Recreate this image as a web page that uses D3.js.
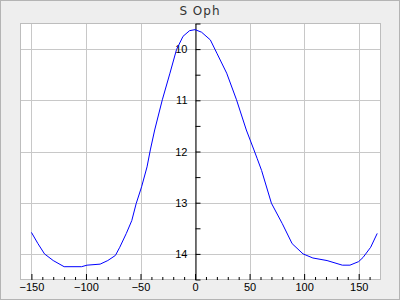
<!DOCTYPE html>
<html>
<head>
<meta charset="utf-8">
<script src="https://cdn.jsdelivr.net/npm/d3@7"></script>
<style>
  body { margin: 0; }
  svg { display: block; }
</style>
</head>
<body>
<svg width="400" height="300"></svg>
<script>
// light curve data: phase vs magnitude
const phase = [-150, -144, -138, -130, -120, -104, -99, -87, -80, -73, -69, -63, -58, -54, -49, -44, -41, -37, -30, -23, -17, -11, -5, 0, 6, 14, 20, 29, 38, 47, 54, 57, 61, 70, 80, 89, 99, 108, 121, 135, 142, 150, 154, 161, 167];
const mag = [13.58, 13.80, 14.00, 14.13, 14.25, 14.25, 14.22, 14.20, 14.13, 14.03, 13.87, 13.60, 13.35, 13.02, 12.69, 12.30, 11.97, 11.58, 10.99, 10.47, 10.01, 9.75, 9.64, 9.62, 9.67, 9.82, 10.08, 10.47, 10.99, 11.58, 11.97, 12.14, 12.37, 13.01, 13.41, 13.80, 14.00, 14.08, 14.13, 14.22, 14.22, 14.15, 14.07, 13.87, 13.60];
const xMajor = [-150, -100, -50, 0, 50, 100, 150];
const yMajor = [10, 11, 12, 13, 14];
const title = "S Oph";

const svg = d3.select("svg");
const W = 400, H = 300;
const plot = { left: 20.5, right: 380.5, top: 23.5, bottom: 279.5 };
const font = "'Liberation Sans', Arial, sans-serif";

// background + outer frame
svg.append("rect").attr("x", 0.5).attr("y", 0.5).attr("width", W - 1).attr("height", H - 1)
  .attr("fill", "#eeeeee").attr("stroke", "#b4b4b4");

svg.append("text").attr("x", 200).attr("y", 15).attr("text-anchor", "middle")
  .attr("font-family", "'DejaVu Sans', sans-serif").attr("font-size", 12)
  .attr("letter-spacing", 1).attr("fill", "#333").text(title);

const x = d3.scaleLinear().domain([-160, 170]).range([plot.left, plot.right]);
const y = d3.scaleLinear().domain([9.5, 14.5]).range([plot.top, plot.bottom]);

svg.append("rect").attr("x", plot.left).attr("y", plot.top)
  .attr("width", plot.right - plot.left).attr("height", plot.bottom - plot.top)
  .attr("fill", "#fff");

// grid
const grid = svg.append("g").attr("stroke", "#c8c8c8").attr("shape-rendering", "crispEdges");
grid.selectAll(".gx").data(xMajor).enter().append("line")
  .attr("x1", d => Math.round(x(d)) + 0.5).attr("x2", d => Math.round(x(d)) + 0.5)
  .attr("y1", plot.top).attr("y2", plot.bottom);
grid.selectAll(".gy").data(yMajor).enter().append("line")
  .attr("y1", d => Math.round(y(d)) + 0.5).attr("y2", d => Math.round(y(d)) + 0.5)
  .attr("x1", plot.left).attr("x2", plot.right);

svg.append("rect").attr("x", plot.left).attr("y", plot.top)
  .attr("width", plot.right - plot.left).attr("height", plot.bottom - plot.top)
  .attr("fill", "none").attr("stroke", "#bdbdbd");

// x axis ticks (upwards from bottom), labels below
const xMinor = d3.range(-150, 170, 10).filter(v => v % 50 !== 0);
svg.append("g").attr("transform", `translate(0,${plot.bottom + 0.5})`)
  .call(d3.axisTop(x).tickValues(xMinor).tickSize(3).tickFormat(""))
  .call(g => g.select(".domain").remove());
svg.append("g").attr("transform", `translate(0,${plot.bottom + 0.5})`)
  .call(d3.axisTop(x).tickValues(xMajor).tickSize(6).tickFormat(""))
  .call(g => g.select(".domain").remove());
svg.append("g").attr("transform", `translate(0,${plot.bottom + 0.5})`)
  .call(d3.axisBottom(x).tickValues(xMajor).tickSize(0).tickPadding(3).tickFormat(d3.format("d")))
  .call(g => g.select(".domain").remove())
  .call(g => g.selectAll("text").attr("font-family", font).attr("font-size", 11).attr("fill", "#000"));

// y axis at phase 0
const x0 = Math.round(x(0)) + 0.5;
const yTicks = d3.range(9.5, 14.51, 0.5);
svg.append("g").attr("transform", `translate(${x0},0)`)
  .call(d3.axisRight(y).tickValues(yTicks).tickSize(5).tickSizeOuter(0).tickFormat(""))
  .call(g => g.select(".domain").attr("stroke", "#000"));
svg.append("g").attr("transform", `translate(${x0 - 8},0)`)
  .call(d3.axisLeft(y).tickValues(yMajor).tickSize(0).tickPadding(0).tickFormat(d3.format("d")))
  .call(g => g.select(".domain").remove())
  .call(g => g.selectAll("text").attr("font-family", font).attr("font-size", 11).attr("fill", "#000"));

// curve
const pts = phase.map((p, i) => [p, mag[i]]);
svg.append("path").datum(pts)
  .attr("fill", "none").attr("stroke", "#0000ff").attr("stroke-width", 1)
  .attr("d", d3.line().x(d => x(d[0])).y(d => y(d[1])));
</script>
</body>
</html>
